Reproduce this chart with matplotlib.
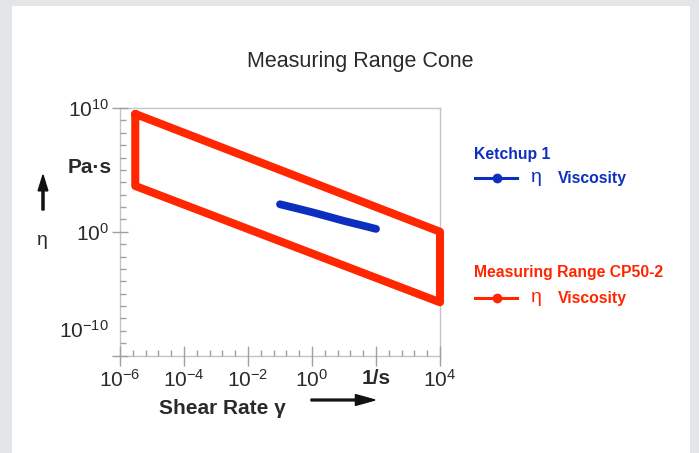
import numpy as np
import matplotlib
matplotlib.use("Agg")
import matplotlib.pyplot as plt
from matplotlib.lines import Line2D
from matplotlib.patches import Rectangle, FancyArrow
from matplotlib.ticker import NullFormatter

plt.rcParams["font.family"] = ["Liberation Sans", "DejaVu Sans"]
plt.rcParams["mathtext.fontset"] = "custom"
plt.rcParams["mathtext.rm"] = "Liberation Sans"
plt.rcParams["mathtext.it"] = "Liberation Sans"
plt.rcParams["mathtext.bf"] = "Liberation Sans:bold"

# ── data ───────────────────────────────────────────────────────────────────────
# measuring range of cone CP50-2 (closed outline)
range_shear = [3e-6, 1e4, 1e4, 3e-6, 3e-6]
range_visc = [3.3e9, 1.0, 2e-6, 5e3, 3.3e9]

# ketchup 1 flow curve
ketchup_shear = [0.1, 0.316, 1, 3.16, 10, 31.6, 100]
ketchup_visc = [166, 80, 38, 17, 7.5, 3.6, 1.7]

x_ticks = [1e-6, 1e-4, 1e-2, 1e0, 1e2, 1e4]
x_ticklabels = ["$10^{-6}$", "$10^{-4}$", "$10^{-2}$", "$10^{0}$", "1/s", "$10^{4}$"]
y_ticks = [1e-10, 1e0, 1e10]
y_ticklabels = ["", "$10^{0}$", "$10^{10}$"]

RED = "#ff2600"
BLUE = "#0d2fbf"
GRID = "#c4c4c4"
TEXT = "#2a2a2a"

# ── figure ─────────────────────────────────────────────────────────────────────
fig = plt.figure(figsize=(6.99, 4.53), dpi=100)
fig.patch.set_facecolor("#e4e5e7")
fig.add_artist(Rectangle((12 / 699, 0), 678 / 699, 1 - 6 / 453,
                         transform=fig.transFigure, facecolor="white",
                         edgecolor="none", zorder=0))

ax = fig.add_axes([120 / 699, 1 - 355.5 / 453, 320 / 699, 247.5 / 453])
ax.set_xscale("log")
ax.set_yscale("log")
ax.set_xlim(1e-6, 1e4)
ax.set_ylim(1e-10, 1e10)

ax.plot(range_shear, range_visc, color=RED, lw=5.8, clip_on=False,
        solid_joinstyle="round", solid_capstyle="round", zorder=3)
ax.plot(ketchup_shear, ketchup_visc, color=BLUE, lw=5.6, clip_on=False,
        solid_joinstyle="round", solid_capstyle="round", zorder=4)

for s in ax.spines.values():
    s.set_color(GRID)
    s.set_linewidth(1.0)
    s.set_zorder(1)

ax.set_xticks(x_ticks)
ax.set_xticklabels(x_ticklabels)
ax.set_xticks(10 ** np.arange(-6, 4.01, 0.4), minor=True)
ax.set_yticks(y_ticks)
ax.set_yticklabels(y_ticklabels)
ax.set_yticks(10.0 ** np.arange(-10, 11, 1), minor=True)
ax.xaxis.set_minor_formatter(NullFormatter())
ax.yaxis.set_minor_formatter(NullFormatter())
ax.tick_params(which="major", direction="inout", length=12, width=1,
               color="#a0a0a0", labelsize=15, labelcolor=TEXT, pad=2)
ax.tick_params(which="minor", direction="in", length=4, width=1,
               color="#a0a0a0")
ax.tick_params(axis="x", which="major", length=15)
for lbl in ax.get_xticklabels():
    if lbl.get_text() == "1/s":
        lbl.set_fontweight("bold")

# the lowest y label sits a bit above the axis in the original
ax.annotate("$10^{-10}$", xy=(0, 1e-10), xycoords=("axes fraction", "data"),
            xytext=(-8, 18), textcoords="offset points", ha="right",
            va="center", fontsize=15, color=TEXT)

ax.text(-0.025, 0.76, "Pa·s", transform=ax.transAxes, ha="right",
        va="center", fontsize=15, fontweight="bold", color=TEXT)

# axis labels with arrows
fig.text(42 / 699, 1 - 240 / 453, "η", ha="center", va="center",
         fontsize=14, color=TEXT)
fig.add_artist(FancyArrow(43 / 699, 1 - 210 / 453, 0, 35 / 453,
                          width=0.003, head_width=0.014, head_length=0.035,
                          length_includes_head=True, color="#111111",
                          transform=fig.transFigure))
fig.text(222 / 699, 1 - 409 / 453, "Shear Rate γ", ha="center",
         va="center", fontsize=15, fontweight="bold", color=TEXT)
fig.add_artist(FancyArrow(311 / 699, 1 - 400 / 453, 64 / 699, 0,
                          width=0.004, head_width=0.024, head_length=0.028,
                          length_includes_head=True, color="#111111",
                          transform=fig.transFigure))

fig.text(360 / 699, 1 - 62 / 453, "Measuring Range Cone", ha="center",
         va="center", fontsize=15.5, color=TEXT)

# ── legend ─────────────────────────────────────────────────────────────────────
def legend_entry(y_title, y_line, title, color):
    fig.text(474 / 699, 1 - y_title / 453, title, ha="left", va="center",
             fontsize=11.3, fontweight="bold", color=color)
    fig.add_artist(Line2D([475 / 699, 517 / 699],
                          [1 - y_line / 453, 1 - y_line / 453],
                          transform=fig.transFigure, color=color, lw=2.2))
    fig.add_artist(Line2D([497 / 699], [1 - y_line / 453], marker="o",
                          markersize=6, transform=fig.transFigure,
                          color=color))
    fig.text(536 / 699, 1 - y_line / 453, "η", ha="center", va="center",
             fontsize=14, color=color)
    fig.text(558 / 699, 1 - y_line / 453, "Viscosity", ha="left",
             va="center", fontsize=11.3, fontweight="bold", color=color)

legend_entry(155, 178, "Ketchup 1", BLUE)
legend_entry(273, 298, "Measuring Range CP50-2", RED)

fig.savefig("out.png", dpi=100, facecolor=fig.get_facecolor())
